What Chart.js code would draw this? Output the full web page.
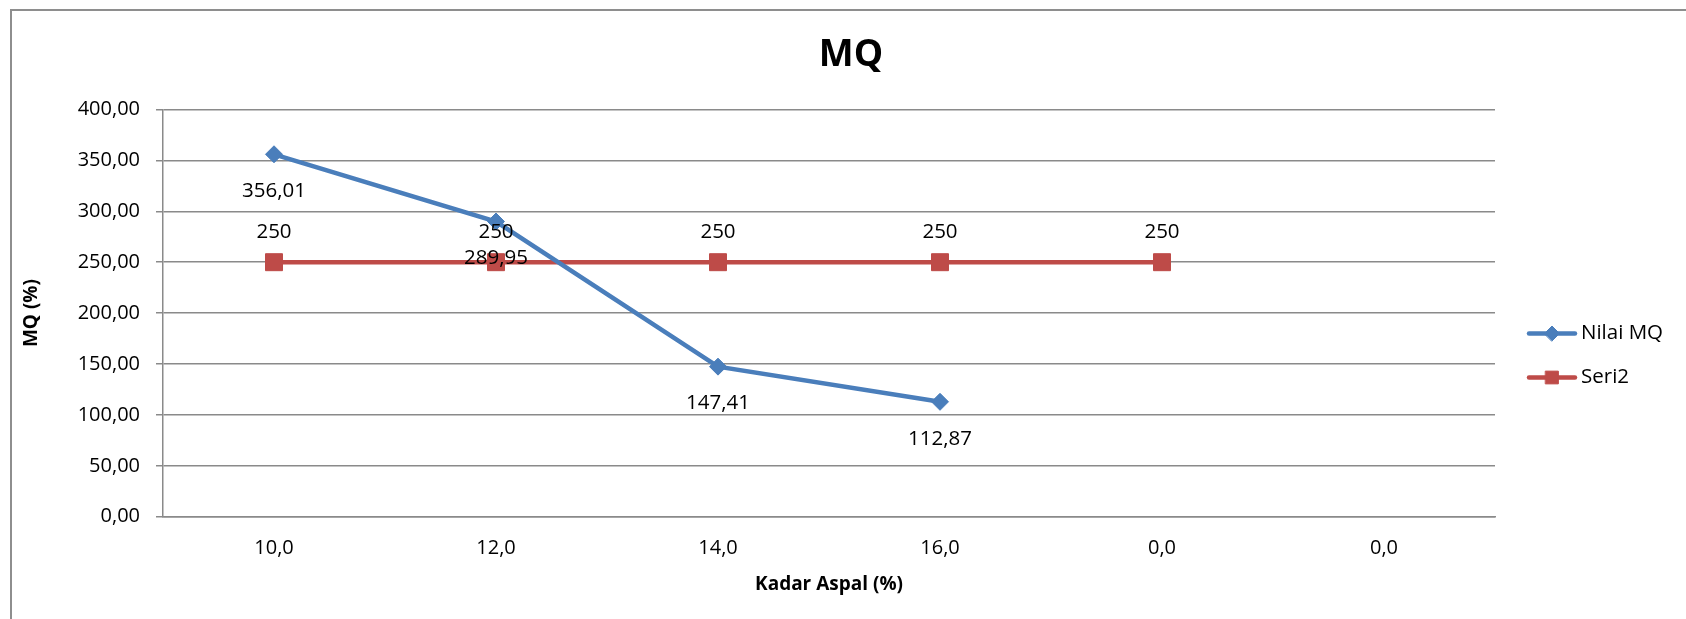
<!DOCTYPE html>
<html>
<head>
<meta charset="utf-8">
<title>MQ</title>
<script src="https://cdn.jsdelivr.net/npm/chart.js@4.4.1/dist/chart.umd.min.js"></script>
<style>
  html, body { margin: 0; padding: 0; background: #ffffff; overflow: hidden; }
  #frame {
    position: absolute; left: 10px; top: 9px; width: 3000px; height: 3000px;
    border-left: 2px solid #8e8e8e; border-top: 2px solid #8e8e8e;
  }
  #wrap { position: absolute; left: 0; top: 0; width: 1686px; height: 619px; }
</style>
</head>
<body>
<div id="frame"></div>
<div id="wrap"><canvas id="chart" width="1686" height="619"></canvas></div>
<script>
// Asphalt content categories (x axis labels)
const categories = ['10,0', '12,0', '14,0', '16,0', '0,0', '0,0'];
// Marshall Quotient values per asphalt content
const nilaiMQ = [356.01, 289.95, 147.41, 112.87, null, null];
// Reference limit line
const seri2 = [250, 250, 250, 250, 250, null];
// Series names
const seriesNames = ['Nilai MQ', 'Seri2'];
// Axis settings
const yMin = 0, yMax = 400, yStep = 50;

const BLUE = '#4A7EBB';
const RED = '#BE4B48';
const GRID = '#8a8a8a';
const FONT = "'Open Sans', 'Noto Sans', sans-serif";

const fmt = v => String(v).replace('.', ',');

// Value labels: below the MQ points, above the limit points
const valueLabels = {
  id: 'valueLabels',
  afterDatasetsDraw(chart) {
    const ctx = chart.ctx;
    ctx.save();
    ctx.font = '20.5px ' + FONT;
    ctx.fillStyle = '#000000';
    ctx.textAlign = 'center';
    ctx.textBaseline = 'middle';
    const offsets = [37, -30];
    [1, 0].forEach(i => {
      const meta = chart.getDatasetMeta(i);
      const data = chart.data.datasets[i].data;
      meta.data.forEach((pt, j) => {
        if (data[j] === null || data[j] === undefined) return;
        ctx.fillText(fmt(data[j]), pt.x, pt.y + offsets[i]);
      });
    });
    ctx.restore();
  }
};

// Legend with line + marker samples, right of the plot
const sideLegend = {
  id: 'sideLegend',
  afterDraw(chart) {
    const ctx = chart.ctx;
    const area = chart.chartArea;
    const x0 = area.right + 34;
    const x1 = area.right + 80;
    const ys = [333.5, 377.5];
    ctx.save();
    chart.data.datasets.forEach((ds, i) => {
      const y = ys[i];
      ctx.strokeStyle = ds.borderColor;
      ctx.lineWidth = 4.5;
      ctx.lineCap = 'round';
      ctx.beginPath();
      ctx.moveTo(x0, y);
      ctx.lineTo(x1, y);
      ctx.stroke();
      ctx.fillStyle = ds.pointBackgroundColor;
      ctx.strokeStyle = ds.pointBorderColor;
      ctx.lineWidth = 1;
      Chart.helpers.drawPoint(ctx, {
        pointStyle: ds.pointStyle,
        radius: i === 0 ? 7.5 : 9,
        rotation: 0,
        borderWidth: 1
      }, (x0 + x1) / 2, y);
      ctx.fillStyle = '#000000';
      ctx.font = '20.5px ' + FONT;
      ctx.textAlign = 'left';
      ctx.textBaseline = 'middle';
      ctx.fillText(ds.label, x1 + 6, y);
    });
    ctx.restore();
  }
};

new Chart(document.getElementById('chart'), {
  type: 'line',
  data: {
    labels: categories,
    datasets: [
      {
        label: seriesNames[0],
        data: nilaiMQ,
        borderColor: BLUE,
        backgroundColor: BLUE,
        pointBackgroundColor: BLUE,
        pointBorderColor: BLUE,
        borderWidth: 4.5,
        pointStyle: 'rectRot',
        pointRadius: 8.5,
        pointBorderWidth: 1,
        tension: 0,
        spanGaps: false
      },
      {
        label: seriesNames[1],
        data: seri2,
        borderColor: RED,
        backgroundColor: RED,
        pointBackgroundColor: RED,
        pointBorderColor: RED,
        borderWidth: 4.5,
        pointStyle: 'rect',
        pointRadius: 12,
        pointBorderWidth: 1,
        tension: 0,
        spanGaps: false
      }
    ]
  },
  options: {
    responsive: false,
    animation: false,
    events: [],
    layout: { padding: { left: 16, right: 0, top: 0, bottom: 0 } },
    plugins: {
      legend: { display: false },
      tooltip: { enabled: false },
      title: {
        display: true,
        text: 'MQ',
        color: '#000000',
        font: { family: FONT, size: 37, weight: 'bold', lineHeight: 1.2 },
        padding: { top: 32.8, bottom: 32.3 }
      }
    },
    scales: {
      x: {
        type: 'category',
        offset: true,
        grid: { display: false, drawTicks: false, offset: true },
        border: { display: true, color: GRID, width: 1.5 },
        ticks: {
          color: '#000000',
          font: { family: FONT, size: 20 },
          padding: 20,
          maxRotation: 0,
          autoSkip: false
        },
        title: {
          display: true,
          text: 'Kadar Aspal (%)',
          color: '#000000',
          font: { family: FONT, size: 19, weight: 'bold', lineHeight: 1.2 },
          padding: { top: 0, bottom: 22.6 }
        },
        afterFit(scale) { scale.height = 102.3; }
      },
      y: {
        min: yMin,
        max: yMax,
        grid: {
          color: GRID,
          lineWidth: 1.5,
          drawTicks: true,
          tickLength: 7,
          tickColor: GRID
        },
        border: { display: true, color: GRID, width: 1.5 },
        ticks: {
          stepSize: yStep,
          color: '#000000',
          font: { family: FONT, size: 20 },
          padding: 16,
          callback: v => v.toFixed(2).replace('.', ',')
        },
        title: {
          display: true,
          text: 'MQ (%)',
          color: '#000000',
          font: { family: FONT, size: 19, weight: 'bold', lineHeight: 1.2 },
          padding: { top: 4.6, bottom: 0 }
        },
        afterFit(scale) { scale.width = 147; }
      },
      legendSpace: {
        type: 'linear',
        position: 'right',
        display: true,
        grid: { display: false, drawTicks: false },
        border: { display: false },
        ticks: { display: false },
        afterFit(scale) { scale.width = 191; }
      }
    }
  },
  plugins: [valueLabels, sideLegend]
});
</script>
</body>
</html>
